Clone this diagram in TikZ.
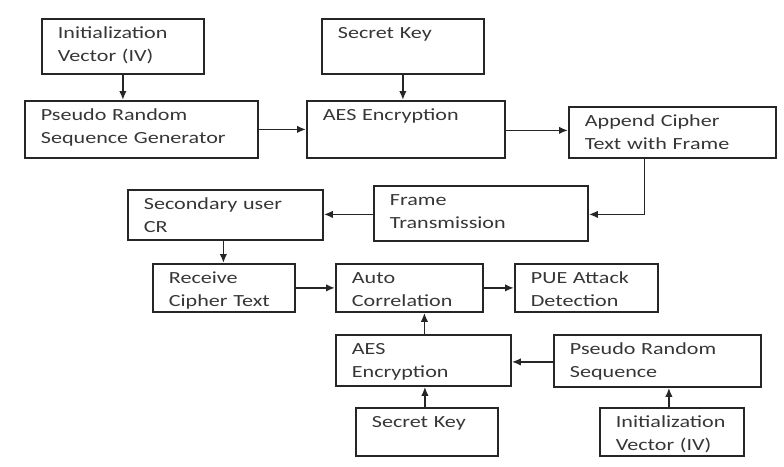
\documentclass[tikz,border=0pt]{standalone}
\usepackage{fontspec}
\setmainfont{Carlito}[FakeStretch=1.3]
\usepackage{xcolor}
\usepackage{tikz}
\usetikzlibrary{arrows.meta}

\definecolor{inkgray}{HTML}{363636}

\begin{document}
\begin{tikzpicture}[x=1pt,y=-1pt,>={Latex[length=9pt,width=7.5pt]},
  box/.style={draw=black!85,line width=1.8pt,anchor=north west,align=left,
    inner xsep=16pt,inner ysep=9pt,text height=11pt,text=inkgray,
    font=\fontsize{17pt}{23pt}\selectfont},
  flow/.style={->,draw=black!85,line width=1.8pt}]
 \useasboundingbox (0,0) rectangle (784,466);
 % sender side
 \node[box,text width=130pt,text depth=26pt] (iv) at (41,18)
   {Initialization\\Vector (IV)};
 \node[box,text width=201pt,text depth=28pt] (prsg) at (24,100)
   {Pseudo Random\\Sequence Generator};
 \node[box,text width=130pt,text depth=26pt] (key) at (321,18) {Secret Key};
 \node[box,text width=166pt,text depth=28pt] (aes) at (306,100)
   {AES Encryption};
 \node[box,text width=175pt,text depth=22pt] (append) at (568,106)
   {Append Cipher\\Text with Frame};
 \node[box,text width=182pt,text depth=26pt] (frame) at (373,185)
   {Frame\\Transmission};
 % receiver side
 \node[box,text width=163pt,text depth=21pt] (su) at (127,189)
   {Secondary user\\CR};
 \node[box,text width=110pt,text depth=19pt] (recv) at (152,263)
   {Receive\\Cipher Text};
 \node[box,text width=115pt,text depth=19pt] (autocorr) at (335,263)
   {Auto\\Correlation};
 \node[box,text width=111pt,text depth=19pt] (pue) at (514,263)
   {PUE Attack\\Detection};
 \node[box,text width=143pt,text depth=22pt] (aesrx) at (335,334)
   {AES\\Encryption};
 \node[box,text width=175pt,text depth=23pt] (prs) at (553,334)
   {Pseudo Random\\Sequence};
 \node[box,text width=110pt,text depth=19pt] (keyrx) at (355,407)
   {Secret Key};
 \node[box,text width=112pt,text depth=19pt] (ivrx) at (599,407)
   {Initialization\\Vector (IV)};

 \draw[flow] (iv.south) -- (iv.south |- prsg.north);
 \draw[flow] (key.south) -- (key.south |- aes.north);
 \draw[flow] (prsg.east) -- (prsg.east -| aes.west);
 \draw[flow] ([yshift=-1pt]aes.east) -- ([yshift=-1pt]aes.east -| append.west);
 \draw[flow] ([xshift=-28pt]append.south) |- ([yshift=-1pt]frame.east);
 \draw[flow] ([yshift=-1pt]frame.west) -- ([yshift=-1pt]frame.west -| su.east);
 \draw[flow] ([xshift=-2pt]su.south) -- ([xshift=-2pt]su.south |- recv.north);
 \draw[flow] (recv.east) -- (recv.east -| autocorr.west);
 \draw[flow] (autocorr.east) -- (autocorr.east -| pue.west);
 \draw[flow] ([xshift=1pt]aesrx.north) -- ([xshift=1pt]aesrx.north |- autocorr.south);
 \draw[flow] ([xshift=-2pt]keyrx.north) -- ([xshift=-2pt]keyrx.north |- aesrx.south);
 \draw[flow] ([yshift=-1pt]prs.west) -- ([yshift=-1pt]prs.west -| aesrx.east);
 \draw[flow] ([xshift=-3pt]ivrx.north) -- ([xshift=-3pt]ivrx.north |- prs.south);
\end{tikzpicture}
\end{document}
